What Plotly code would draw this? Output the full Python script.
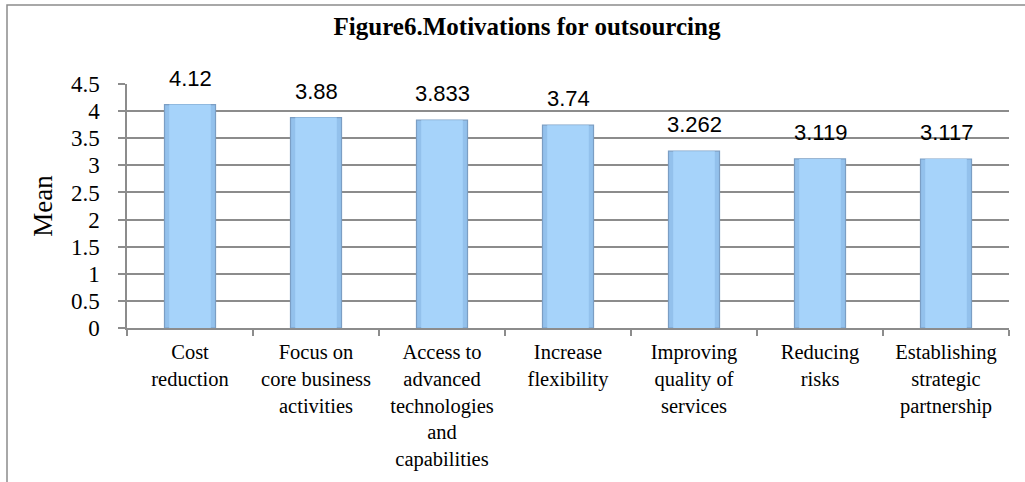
import plotly.graph_objects as go

categories = ["Cost<br>reduction", "Focus on<br>core business<br>activities",
              "Access to<br>advanced<br>technologies<br>and<br>capabilities",
              "Increase<br>flexibility", "Improving<br>quality of<br>services",
              "Reducing<br>risks", "Establishing<br>strategic<br>partnership"]
values = [4.12, 3.88, 3.833, 3.74, 3.262, 3.119, 3.117]
value_labels = ["4.12", "3.88", "3.833", "3.74", "3.262", "3.119", "3.117"]
y_ticks = [0, 0.5, 1, 1.5, 2, 2.5, 3, 3.5, 4, 4.5]
y_tick_labels = ["0", "0.5", "1", "1.5", "2", "2.5", "3", "3.5", "4", "4.5"]

W, H = 1025, 482
L, R, T, B = 127, 16, 84, 154
pw, ph = W - L - R, H - T - B

fig = go.Figure()
# outer (edge-shaded) bar
fig.add_trace(go.Bar(
    x=categories, y=values, width=0.405,
    marker=dict(color="#93C1EC", line=dict(color="#7B9EC4", width=1.2)),
    hoverinfo="skip",
))
# inner lighter face for a bevelled look
fig.add_trace(go.Bar(
    x=categories, y=values, width=0.33,
    marker=dict(color="#A6D3FA", line=dict(width=0)),
    hoverinfo="skip",
))

for c, v, t in zip(categories, values, value_labels):
    fig.add_annotation(x=c, y=v, text=t, showarrow=False, yanchor="bottom",
                       yshift=12, font=dict(family="Liberation Sans", size=22, color="#000"))

def px_x(p):
    return (p - L) / pw

def px_y(p):
    return (H - B - p) / ph

# outer chart frame
fig.add_shape(type="rect", xref="paper", yref="paper",
              x0=px_x(7), x1=px_x(1040), y0=px_y(5), y1=px_y(500),
              line=dict(color="#8C8C8C", width=1.5), layer="below")

fig.update_layout(
    width=W, height=H,
    margin=dict(l=L, r=R, t=T, b=B, autoexpand=False),
    paper_bgcolor="white", plot_bgcolor="white",
    showlegend=False, barmode="overlay",
    title=dict(text="<b>Figure6.Motivations for outsourcing</b>",
               x=527 / W, xanchor="center", xref="container",
               y=1 - 26 / H, yanchor="middle", yref="container",
               font=dict(family="Liberation Serif", size=25, color="#000")),
    font=dict(family="Liberation Serif", color="#000"),
)
fig.update_yaxes(
    range=[0, 4.5], tickvals=y_ticks, ticktext=y_tick_labels,
    showgrid=True, gridcolor="#8C8C8C", gridwidth=1.5,
    showline=True, linecolor="#8C8C8C", linewidth=1.5,
    ticks="outside", ticklen=7, tickcolor="#8C8C8C", tickwidth=1.5,
    ticklabelstandoff=14,
    tickfont=dict(family="Liberation Serif", size=23, color="#000"),
    title=dict(text="Mean", standoff=10,
               font=dict(family="Liberation Serif", size=27, color="#000")),
    zeroline=False, automargin=False,
)
fig.update_xaxes(
    showline=True, linecolor="#8C8C8C", linewidth=1.5,
    ticks="outside", ticklen=6, tickcolor="#8C8C8C", tickwidth=1.5,
    tickson="boundaries", ticklabelstandoff=5,
    tickfont=dict(family="Liberation Serif", size=20.5, color="#000"),
    tickangle=0, automargin=False,
)

fig.write_html("out.html")
